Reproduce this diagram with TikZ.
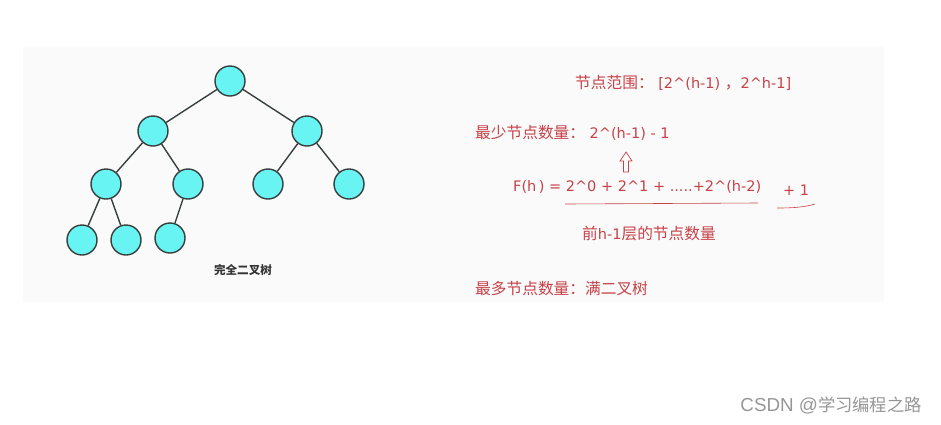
\documentclass[tikz,border=0pt]{standalone}
\usepackage{fontspec}
\newfontfamily\cjk{Noto Sans CJK SC}
\newfontfamily\latn{DejaVu Sans}
\newfontfamily\markfont{Liberation Sans}
\usetikzlibrary{calc}
\definecolor{nodecyan}{RGB}{104,244,242}
\definecolor{edgegray}{RGB}{55,62,62}
\definecolor{notered}{RGB}{198,66,72}
\definecolor{panelgray}{RGB}{250,250,250}
\definecolor{markgray}{RGB}{150,150,150}
\newcommand\lt[1]{{\latn\fontsize{14.5}{16}\selectfont #1}}

\begin{document}
\begin{tikzpicture}[x=1pt,y=-1pt,
    tnode/.style={circle, draw=edgegray, line width=1.4pt, fill=nodecyan, minimum size=30pt, inner sep=0pt},
    tedge/.style={edgegray, line width=1.4pt},
    note/.style={text=notered, font=\cjk\fontsize{15.7}{18}\selectfont, anchor=west, inner sep=0pt}]
            \useasboundingbox (0,0) rectangle (941,424);
            \fill[panelgray] (23,47) rectangle (884,302);
            % tree
            \node[tnode] (r) at (230,81) {};
            \node[tnode] (a) at (153,131) {};
            \node[tnode] (b) at (307,131) {};
            \node[tnode] (aa) at (106,184) {};
            \node[tnode] (ab) at (188,184) {};
            \node[tnode] (ba) at (268,184) {};
            \node[tnode] (bb) at (349,184) {};
            \node[tnode] (aaa) at (82,240) {};
            \node[tnode] (aab) at (126,240) {};
            \node[tnode] (aba) at (170,238) {};
            \draw[tedge] (r) -- (a);
            \draw[tedge] (r) -- (b);
            \draw[tedge] (a) -- (aa);
            \draw[tedge] (a) -- (ab);
            \draw[tedge] (b) -- (ba);
            \draw[tedge] (b) -- (bb);
            \draw[tedge] (aa) -- (aaa);
            \draw[tedge] (aa) -- (aab);
            \draw[tedge] (ab) -- (aba);
            \node[font=\cjk\bfseries\fontsize{11.6}{13}\selectfont, text=black!80] (cap) at (243,270) {完全二叉树};
            % notes
            \node[note] (range) at (575,83) {节点范围：\lt{\ [2\textasciicircum(h-1)\ }，\lt{2\textasciicircum h-1]}};
            \node[note] (least) at (475,133) {最少节点数量：\lt{ 2\textasciicircum(h-1) - 1}};
            \node[note] (fh) at (513,187) {\lt{F(h\,) = 2\textasciicircum0 + 2\textasciicircum1 + .....+2\textasciicircum(h-2)}};
            \node[note] (one) at (783,190) {\lt{+ 1}};
            \node[note] (first) at (582,234) {前\lt{h-1}层的节点数量};
            \node[note] (most) at (475,289) {最多节点数量：满二叉树};
            \coordinate (u1) at (565,204);
            \coordinate (u2) at (758,203);
            \coordinate (c1) at (777,208);
            \coordinate (c2) at (815,204);
            \draw[notered, line width=0.6pt] (u1) -- (u2);
            \draw[notered, line width=0.6pt] (c1) .. controls (795,208) and (805,207) .. (c2);
            \draw[notered, line width=0.7pt] (626,152) -- (632,161) -- (628.5,161) -- (628.5,172)
                -- (623.5,172) -- (623.5,161) -- (620,161) -- cycle;
            \node[anchor=east, text=markgray, font=\cjk\fontsize{17.3}{19}\selectfont, inner sep=0pt] (mark) at (922,405) {{\markfont\fontsize{18.8}{20}\selectfont CSDN @}学习编程之路};
        \end{tikzpicture}
\end{document}
